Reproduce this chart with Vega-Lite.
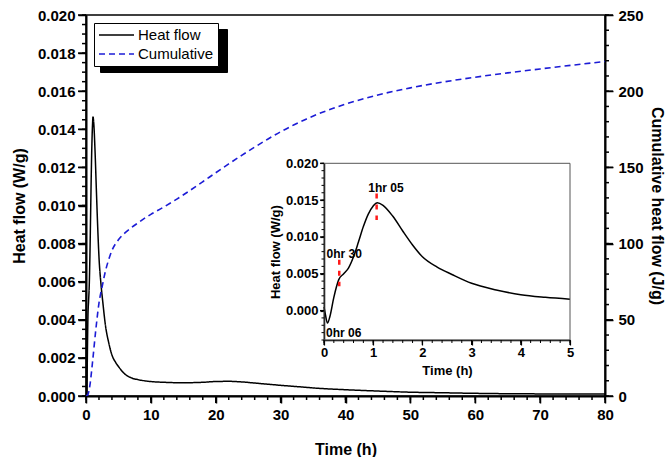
{
  "$schema": "https://vega.github.io/schema/vega-lite/v6.json",
  "width": 519,
  "height": 381,
  "autosize": "none",
  "padding": {"left": 86, "top": 15, "right": 65, "bottom": 61},
  "config": {
    "font": "Liberation Sans",
    "view": {"stroke": "black", "strokeWidth": 1.5},
    "axis": {
      "grid": false,
      "ticks": true,
      "tickColor": "#000000",
      "tickWidth": 1.5,
      "domainColor": "#000000",
      "labelColor": "black",
      "titleColor": "black",
      "labelFont": "Liberation Sans",
      "titleFont": "Liberation Sans",
      "labelFontWeight": "bold",
      "titleFontWeight": "bold",
      "labelFlush": false
    }
  },
  "datasets": {
    "hf": [
      {"t": 0, "hf": 0.0005},
      {"t": 0.03, "hf": -0.0006},
      {"t": 0.07, "hf": -0.0017},
      {"t": 0.12, "hf": -0.0008},
      {"t": 0.2, "hf": 0.0018},
      {"t": 0.3, "hf": 0.0042},
      {"t": 0.4, "hf": 0.005},
      {"t": 0.5, "hf": 0.0058},
      {"t": 0.6, "hf": 0.0073},
      {"t": 0.7, "hf": 0.0093},
      {"t": 0.8, "hf": 0.0114},
      {"t": 0.9, "hf": 0.0131},
      {"t": 1.0, "hf": 0.0142},
      {"t": 1.08, "hf": 0.01465},
      {"t": 1.2, "hf": 0.0143},
      {"t": 1.4, "hf": 0.0128},
      {"t": 1.6, "hf": 0.0108},
      {"t": 1.8, "hf": 0.0089},
      {"t": 2.0, "hf": 0.0073},
      {"t": 2.3, "hf": 0.0059},
      {"t": 2.6, "hf": 0.0049},
      {"t": 3.0, "hf": 0.0037},
      {"t": 3.5, "hf": 0.0028},
      {"t": 4.0, "hf": 0.00215},
      {"t": 4.5, "hf": 0.0018},
      {"t": 5.0, "hf": 0.00155},
      {"t": 6, "hf": 0.00115},
      {"t": 7, "hf": 0.00095},
      {"t": 8, "hf": 0.00086},
      {"t": 9, "hf": 0.0008},
      {"t": 10, "hf": 0.00076},
      {"t": 12, "hf": 0.00072},
      {"t": 14, "hf": 0.0007},
      {"t": 16, "hf": 0.0007},
      {"t": 18, "hf": 0.00072},
      {"t": 20, "hf": 0.00076},
      {"t": 22, "hf": 0.00077},
      {"t": 24, "hf": 0.00074},
      {"t": 26, "hf": 0.00068},
      {"t": 28, "hf": 0.00062},
      {"t": 30, "hf": 0.00056},
      {"t": 33, "hf": 0.00048},
      {"t": 36, "hf": 0.0004},
      {"t": 40, "hf": 0.00033},
      {"t": 45, "hf": 0.00026},
      {"t": 50, "hf": 0.0002},
      {"t": 55, "hf": 0.00017},
      {"t": 60, "hf": 0.00014},
      {"t": 65, "hf": 0.00012},
      {"t": 70, "hf": 0.00011},
      {"t": 75, "hf": 0.0001},
      {"t": 80, "hf": 0.0001}
    ],
    "cum": [
      {"t": 0, "cum": 0},
      {"t": 0.3, "cum": 1},
      {"t": 0.6, "cum": 7},
      {"t": 1.0, "cum": 22},
      {"t": 1.5, "cum": 43},
      {"t": 2.0, "cum": 61},
      {"t": 2.5, "cum": 72},
      {"t": 3.0, "cum": 82},
      {"t": 3.5, "cum": 89.5},
      {"t": 4.0, "cum": 95.5},
      {"t": 5.0, "cum": 102.5},
      {"t": 6.0, "cum": 107},
      {"t": 7.0, "cum": 110.5},
      {"t": 8.0, "cum": 113.5},
      {"t": 9.0, "cum": 116.5},
      {"t": 10, "cum": 119.2},
      {"t": 12, "cum": 124},
      {"t": 14, "cum": 129.2},
      {"t": 16, "cum": 134.8},
      {"t": 18, "cum": 140.6},
      {"t": 20, "cum": 146.5},
      {"t": 22, "cum": 152.3},
      {"t": 24, "cum": 157.9},
      {"t": 26, "cum": 163.3},
      {"t": 28, "cum": 168.5},
      {"t": 30, "cum": 173.4},
      {"t": 32, "cum": 177.8},
      {"t": 34, "cum": 181.8},
      {"t": 36, "cum": 185.4},
      {"t": 38, "cum": 188.6},
      {"t": 40, "cum": 191.5},
      {"t": 45, "cum": 197.5},
      {"t": 50, "cum": 202.2},
      {"t": 55, "cum": 206},
      {"t": 60, "cum": 209.2},
      {"t": 65, "cum": 212},
      {"t": 70, "cum": 214.6},
      {"t": 75, "cum": 217.1},
      {"t": 80, "cum": 219.5}
    ],
    "notes": [
      {"t": 0.04, "v": -0.003, "label": "0hr 06"},
      {"t": 0.05, "v": 0.0077, "label": "0hr 30"},
      {"t": 0.9, "v": 0.0166, "label": "1hr 05"}
    ],
    "marks": [
      {"t": 0.31, "v1": 0.0033, "v2": 0.0069},
      {"t": 1.07, "v1": 0.0123, "v2": 0.0159}
    ],
    "frame": [{"t0": 0, "t1": 5, "v0": -0.004, "v1": 0.02}],
    "mxAll": [{"v":0},{"v":2},{"v":4},{"v":6},{"v":8},{"v":10},{"v":12},{"v":14},{"v":16},{"v":18},{"v":20},{"v":22},{"v":24},{"v":26},{"v":28},{"v":30},{"v":32},{"v":34},{"v":36},{"v":38},{"v":40},{"v":42},{"v":44},{"v":46},{"v":48},{"v":50},{"v":52},{"v":54},{"v":56},{"v":58},{"v":60},{"v":62},{"v":64},{"v":66},{"v":68},{"v":70},{"v":72},{"v":74},{"v":76},{"v":78},{"v":80}],
    "mxMaj": [{"v":0},{"v":10},{"v":20},{"v":30},{"v":40},{"v":50},{"v":60},{"v":70},{"v":80}],
    "myAll": [{"v":0},{"v":0.0005},{"v":0.001},{"v":0.0015},{"v":0.002},{"v":0.0025},{"v":0.003},{"v":0.0035},{"v":0.004},{"v":0.0045},{"v":0.005},{"v":0.0055},{"v":0.006},{"v":0.0065},{"v":0.007},{"v":0.0075},{"v":0.008},{"v":0.0085},{"v":0.009},{"v":0.0095},{"v":0.01},{"v":0.0105},{"v":0.011},{"v":0.0115},{"v":0.012},{"v":0.0125},{"v":0.013},{"v":0.0135},{"v":0.014},{"v":0.0145},{"v":0.015},{"v":0.0155},{"v":0.016},{"v":0.0165},{"v":0.017},{"v":0.0175},{"v":0.018},{"v":0.0185},{"v":0.019},{"v":0.0195},{"v":0.02}],
    "myMaj": [{"v":0},{"v":0.002},{"v":0.004},{"v":0.006},{"v":0.008},{"v":0.01},{"v":0.012},{"v":0.014},{"v":0.016},{"v":0.018},{"v":0.02}],
    "ryAll": [{"v":0},{"v":10},{"v":20},{"v":30},{"v":40},{"v":50},{"v":60},{"v":70},{"v":80},{"v":90},{"v":100},{"v":110},{"v":120},{"v":130},{"v":140},{"v":150},{"v":160},{"v":170},{"v":180},{"v":190},{"v":200},{"v":210},{"v":220},{"v":230},{"v":240},{"v":250}],
    "ryMaj": [{"v":0},{"v":50},{"v":100},{"v":150},{"v":200},{"v":250}],
    "ixAll": [{"v":0},{"v":0.2},{"v":0.4},{"v":0.6},{"v":0.8},{"v":1},{"v":1.2},{"v":1.4},{"v":1.6},{"v":1.8},{"v":2},{"v":2.2},{"v":2.4},{"v":2.6},{"v":2.8},{"v":3},{"v":3.2},{"v":3.4},{"v":3.6},{"v":3.8},{"v":4},{"v":4.2},{"v":4.4},{"v":4.6},{"v":4.8},{"v":5}],
    "ixMaj": [{"v":0},{"v":1},{"v":2},{"v":3},{"v":4},{"v":5}],
    "iyAll": [{"v":-0.004},{"v":-0.003},{"v":-0.002},{"v":-0.001},{"v":0},{"v":0.001},{"v":0.002},{"v":0.003},{"v":0.004},{"v":0.005},{"v":0.006},{"v":0.007},{"v":0.008},{"v":0.009},{"v":0.01},{"v":0.011},{"v":0.012},{"v":0.013},{"v":0.014},{"v":0.015},{"v":0.016},{"v":0.017},{"v":0.018},{"v":0.019},{"v":0.02}],
    "iyMaj": [{"v":0},{"v":0.005},{"v":0.01},{"v":0.015},{"v":0.02}]
  },
  "layer": [
    {
      "layer": [
        {
          "data": {"name": "hf"},
          "mark": {"type": "line", "interpolate": "monotone", "strokeWidth": 1.5, "clip": true},
          "encoding": {
            "x": {
              "field": "t", "type": "quantitative",
              "scale": {"domain": [0, 80], "nice": false, "zero": false},
              "axis": {
                "orient": "bottom",
                "title": "Time (h)",
                "values": [0, 10, 20, 30, 40, 50, 60, 70, 80],
                "tickSize": 7,
                "domainWidth": 2,
                "labelFontSize": 15,
                "titleFontSize": 16,
                "labelPadding": 4,
                "titlePadding": 19
              }
            },
            "y": {
              "field": "hf", "type": "quantitative",
              "scale": {"domain": [0, 0.02], "nice": false, "zero": false},
              "axis": {
                "orient": "left",
                "title": "Heat flow (W/g)",
                "values": [0, 0.002, 0.004, 0.006, 0.008, 0.01, 0.012, 0.014, 0.016, 0.018, 0.02],
                "format": ".3f",
                "tickSize": 8,
                "domainWidth": 2,
                "labelFontSize": 15,
                "titleFontSize": 16,
                "labelPadding": 3,
                "titlePadding": 10
              }
            },
            "color": {
              "datum": "Heat flow", "type": "nominal",
              "scale": {"domain": ["Heat flow", "Cumulative"], "range": ["black", "#1c1cd6"]},
              "legend": {
                "orient": "top-left", "offset": 8, "title": null, "zindex": 2,
                "fillColor": "white", "strokeColor": "black", "padding": 4,
                "symbolType": "M-1,0H4", "symbolSize": 196, "symbolStrokeWidth": 1.5,
                "labelFont": "Liberation Sans", "labelFontSize": 15, "labelColor": "black",
                "labelOffset": 24, "rowPadding": 3
              }
            },
            "strokeDash": {
              "datum": "Heat flow", "type": "nominal",
              "scale": {"domain": ["Heat flow", "Cumulative"], "range": [[1, 0], [6, 4]]},
              "legend": {
                "orient": "top-left", "offset": 8, "title": null, "zindex": 2,
                "fillColor": "white", "strokeColor": "black", "padding": 4,
                "symbolType": "M-1,0H4", "symbolSize": 196, "symbolStrokeWidth": 1.5,
                "labelFont": "Liberation Sans", "labelFontSize": 15, "labelColor": "black",
                "labelOffset": 24, "rowPadding": 3
              }
            },
            "opacity": {
              "datum": "h", "type": "ordinal",
              "scale": {"domain": ["h", "c"], "range": [1, 1]},
              "legend": {
                "orient": "none", "legendX": 14, "legendY": 14, "title": null, "zindex": 1,
                "fillColor": "black", "strokeColor": "black", "padding": 4,
                "symbolType": "M-1,0H15.3", "symbolSize": 196, "symbolStrokeWidth": 1.5,
                "symbolStrokeColor": "black", "symbolFillColor": "black",
                "labelFont": "Liberation Sans", "labelFontSize": 15, "labelColor": "black",
                "labelOffset": 0, "rowPadding": 3,
                "labelExpr": "''"
              }
            }
          }
        },
        {
          "data": {"name": "cum"},
          "mark": {"type": "line", "interpolate": "monotone", "strokeWidth": 1.6, "clip": true},
          "encoding": {
            "x": {"field": "t", "type": "quantitative"},
            "y": {
              "field": "cum", "type": "quantitative",
              "scale": {"domain": [0, 250], "nice": false, "zero": false},
              "axis": {
                "orient": "right",
                "title": "Cumulative heat flow (J/g)",
                "values": [0, 50, 100, 150, 200, 250],
                "tickSize": 8,
                "domainWidth": 2,
                "labelFontSize": 15,
                "titleFontSize": 16,
                "labelPadding": 5,
                "titlePadding": 5
              }
            },
            "color": {"datum": "Cumulative", "type": "nominal"},
            "strokeDash": {"datum": "Cumulative", "type": "nominal"}
          }
        }
      ],
      "resolve": {"scale": {"y": "independent"}, "axis": {"y": "independent"}}
    },
    {
      "layer": [
        {
          "data": {"name": "hf"},
          "transform": [{"filter": "datum.t <= 5"}],
          "mark": {"type": "line", "interpolate": "monotone", "strokeWidth": 1.5, "color": "black"},
          "encoding": {
            "x": {
              "field": "t", "type": "quantitative",
              "scale": {"domain": [0, 5], "range": [238, 484], "nice": false, "zero": false},
              "axis": {
                "orient": "bottom", "offset": -56,
                "title": "Time (h)",
                "values": [0, 1, 2, 3, 4, 5],
                "tickSize": 5,
                "tickWidth": 1.2,
                "domainWidth": 1.5,
                "labelFontSize": 13,
                "titleFontSize": 13,
                "labelPadding": 1,
                "titlePadding": 5
              }
            },
            "y": {
              "field": "hf", "type": "quantitative",
              "scale": {"domain": [-0.004, 0.02], "range": [325, 148.3], "nice": false, "zero": false},
              "axis": {
                "orient": "left", "offset": -238,
                "title": "Heat flow (W/g)",
                "values": [0, 0.005, 0.01, 0.015, 0.02],
                "format": ".3f",
                "tickSize": 4,
                "tickWidth": 1.2,
                "domainWidth": 1.5,
                "labelFontSize": 13,
                "titleFontSize": 13,
                "labelPadding": 2,
                "titlePadding": 3
              }
            }
          }
        },
        {
          "data": {"name": "frame"},
          "mark": {"type": "rect", "filled": false, "stroke": "#555555", "strokeWidth": 1},
          "encoding": {
            "x": {"field": "t0", "type": "quantitative", "axis": null},
            "x2": {"field": "t1"},
            "y": {"field": "v0", "type": "quantitative", "axis": null},
            "y2": {"field": "v1"}
          }
        },
        {
          "data": {"name": "marks"},
          "mark": {"type": "rule", "color": "#ff1a1a", "strokeWidth": 2.5, "strokeDash": [5, 6]},
          "encoding": {
            "x": {"field": "t", "type": "quantitative", "axis": null},
            "y": {"field": "v2", "type": "quantitative", "axis": null},
            "y2": {"field": "v1"}
          }
        },
        {
          "data": {"name": "notes"},
          "mark": {"type": "text", "align": "left", "baseline": "middle", "font": "Liberation Sans", "fontWeight": "bold", "fontSize": 12, "color": "black"},
          "encoding": {
            "x": {"field": "t", "type": "quantitative", "axis": null},
            "y": {"field": "v", "type": "quantitative", "axis": null},
            "text": {"field": "label"}
          }
        }
      ],
      "resolve": {"axis": {"x": "independent", "y": "independent"}}
    },
    {
      "layer": [
        {
          "data": {"name": "mxAll"},
          "mark": {"type": "rule", "color": "black", "strokeWidth": 1.5, "y2Offset": 4},
          "encoding": {
            "x": {"field": "v", "type": "quantitative", "axis": null, "scale": {"domain": [0, 80], "nice": false, "zero": false}},
            "y": {"datum": 0, "type": "quantitative", "axis": null, "scale": {"domain": [0, 0.02], "nice": false, "zero": false}},
            "y2": {"datum": 0}
          }
        },
        {
          "data": {"name": "mxMaj"},
          "mark": {"type": "rule", "color": "black", "strokeWidth": 1.5, "y2Offset": 7},
          "encoding": {
            "x": {"field": "v", "type": "quantitative", "axis": null},
            "y": {"datum": 0, "type": "quantitative", "axis": null},
            "y2": {"datum": 0}
          }
        },
        {
          "data": {"name": "myAll"},
          "mark": {"type": "rule", "color": "black", "strokeWidth": 1.5, "x2Offset": -4},
          "encoding": {
            "y": {"field": "v", "type": "quantitative", "axis": null},
            "x": {"datum": 0, "type": "quantitative", "axis": null},
            "x2": {"datum": 0}
          }
        },
        {
          "data": {"name": "myMaj"},
          "mark": {"type": "rule", "color": "black", "strokeWidth": 1.5, "x2Offset": -8},
          "encoding": {
            "y": {"field": "v", "type": "quantitative", "axis": null},
            "x": {"datum": 0, "type": "quantitative", "axis": null},
            "x2": {"datum": 0}
          }
        }
      ]
    },
    {
      "layer": [
        {
          "data": {"name": "ryAll"},
          "mark": {"type": "rule", "color": "black", "strokeWidth": 1.5, "x2Offset": 4},
          "encoding": {
            "y": {"field": "v", "type": "quantitative", "axis": null, "scale": {"domain": [0, 250], "nice": false, "zero": false}},
            "x": {"datum": 80, "type": "quantitative", "axis": null, "scale": {"domain": [0, 80], "nice": false, "zero": false}},
            "x2": {"datum": 80}
          }
        },
        {
          "data": {"name": "ryMaj"},
          "mark": {"type": "rule", "color": "black", "strokeWidth": 1.5, "x2Offset": 8},
          "encoding": {
            "y": {"field": "v", "type": "quantitative", "axis": null},
            "x": {"datum": 80, "type": "quantitative", "axis": null},
            "x2": {"datum": 80}
          }
        }
      ]
    },
    {
      "layer": [
        {
          "data": {"name": "ixAll"},
          "mark": {"type": "rule", "color": "black", "strokeWidth": 1, "y2Offset": 3},
          "encoding": {
            "x": {"field": "v", "type": "quantitative", "axis": null, "scale": {"domain": [0, 5], "range": [238, 484], "nice": false, "zero": false}},
            "y": {"datum": -0.004, "type": "quantitative", "axis": null, "scale": {"domain": [-0.004, 0.02], "range": [325, 148.3], "nice": false, "zero": false}},
            "y2": {"datum": -0.004}
          }
        },
        {
          "data": {"name": "ixMaj"},
          "mark": {"type": "rule", "color": "black", "strokeWidth": 1.2, "y2Offset": 5},
          "encoding": {
            "x": {"field": "v", "type": "quantitative", "axis": null},
            "y": {"datum": -0.004, "type": "quantitative", "axis": null},
            "y2": {"datum": -0.004}
          }
        },
        {
          "data": {"name": "iyAll"},
          "mark": {"type": "rule", "color": "black", "strokeWidth": 1, "x2Offset": -2.5},
          "encoding": {
            "y": {"field": "v", "type": "quantitative", "axis": null},
            "x": {"datum": 0, "type": "quantitative", "axis": null},
            "x2": {"datum": 0}
          }
        },
        {
          "data": {"name": "iyMaj"},
          "mark": {"type": "rule", "color": "black", "strokeWidth": 1.2, "x2Offset": -4},
          "encoding": {
            "y": {"field": "v", "type": "quantitative", "axis": null},
            "x": {"datum": 0, "type": "quantitative", "axis": null},
            "x2": {"datum": 0}
          }
        }
      ]
    }
  ],
  "resolve": {
    "scale": {"x": "independent", "y": "independent"},
    "axis": {"x": "independent", "y": "independent"}
  }
}
